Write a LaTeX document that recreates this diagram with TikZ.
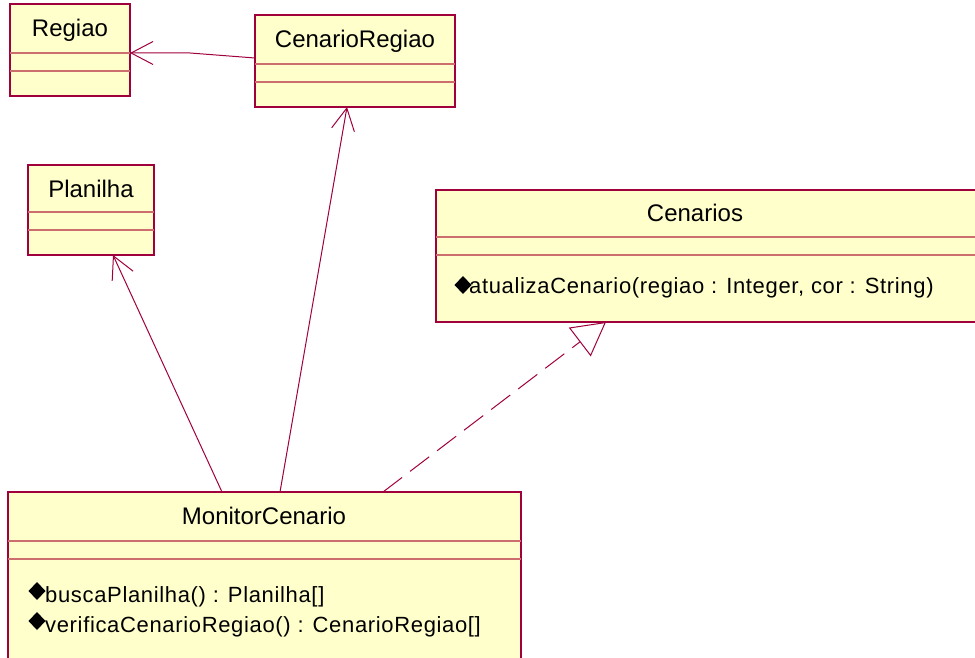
\documentclass[tikz,border=0pt]{standalone}
\usepackage{fontspec}
\setmainfont{Liberation Sans}
\newfontfamily\methfont[LetterSpace=3]{Liberation Sans}
\usetikzlibrary{arrows.meta,calc}

\definecolor{umlborder}{RGB}{160,0,60}
\definecolor{umlsep}{RGB}{205,110,110}
\definecolor{umlfill}{RGB}{255,255,204}

\tikzset{
  classbox/.style={draw=umlborder, fill=umlfill, line width=1.5pt,
    rectangle, anchor=north west, inner sep=0pt, outer sep=0pt},
  sepline/.style={draw=umlsep, line width=1.2pt},
  classname/.style={anchor=base, inner sep=0pt,
    font=\fontsize{24}{28}\selectfont},
  method/.style={anchor=base west, inner sep=0pt,
    font=\methfont\fontsize{22}{26}\selectfont},
  assoc/.style={draw=umlborder, line width=1pt,
    -{Straight Barb[length=22pt,width=23pt,line width=1pt]}},
  realize/.style={draw=umlborder, line width=1pt, dash pattern=on 24pt off 10pt,
    -{Triangle[open,length=33pt,width=36pt,line width=1pt,fill=white]}},
}

% operation marker: filled diamond centred on (#1,#2)
\newcommand{\opmark}[2]{\fill[black] ($(#1,#2)+(-8.5,0)$) -- ($(#1,#2)+(0,-9)$)
  -- ($(#1,#2)+(8.5,0)$) -- ($(#1,#2)+(0,9)$) -- cycle;}

\begin{document}
\begin{tikzpicture}[x=1pt,y=-1pt]
\useasboundingbox (0,0) rectangle (975,658);
\clip (0,0) rectangle (975,658);

% Regiao
\node[classbox, minimum width=120pt, minimum height=92pt] (reg) at (10,4) {};
\draw[sepline] (10,53) -- (130,53) (10,71) -- (130,71);
\node[classname] (regT) at (70,37) {Regiao};

% CenarioRegiao
\node[classbox, minimum width=200pt, minimum height=92pt] (cr) at (255,15) {};
\draw[sepline] (255,64) -- (455,64) (255,82) -- (455,82);
\node[classname] (crT) at (355,48) {CenarioRegiao};

% Planilha
\node[classbox, minimum width=126pt, minimum height=90pt] (pla) at (28,165) {};
\draw[sepline] (28,212) -- (154,212) (28,230) -- (154,230);
\node[classname] (plaT) at (91,197) {Planilha};

% Cenarios
\node[classbox, minimum width=560pt, minimum height=132pt] (cen) at (436,190) {};
\draw[sepline] (436,237) -- (996,237) (436,255) -- (996,255);
\node[classname] (cenT) at (695,222) {Cenarios};
\opmark{463}{285}
\node[method] (cenM) at (469,293) {atualizaCenario(regiao : Integer, cor : String)};

% MonitorCenario
\node[classbox, minimum width=513pt, minimum height=180pt] (mon) at (8,492) {};
\draw[sepline] (8,541) -- (521,541) (8,559) -- (521,559);
\node[classname] (monT) at (264,524) {MonitorCenario};
\opmark{37}{591}
\node[method] (monM1) at (45,602) {buscaPlanilha() : Planilha[]};
\opmark{37}{621}
\node[method] (monM2) at (45,632) {verificaCenarioRegiao() : CenarioRegiao[]};

% associations
\draw[assoc] ([yshift=-43pt]cr.north west) -- (190,53) -- ([yshift=-49pt]reg.north east);
\draw[assoc] ([xshift=214pt]mon.north west) -- ([xshift=85pt]pla.south west);
\draw[assoc] ([xshift=272pt]mon.north west) -- ([xshift=92pt]cr.south west);

% realization
\draw[realize] ([xshift=375pt]mon.north west) -- ([xshift=170pt]cen.south west);
\end{tikzpicture}
\end{document}
